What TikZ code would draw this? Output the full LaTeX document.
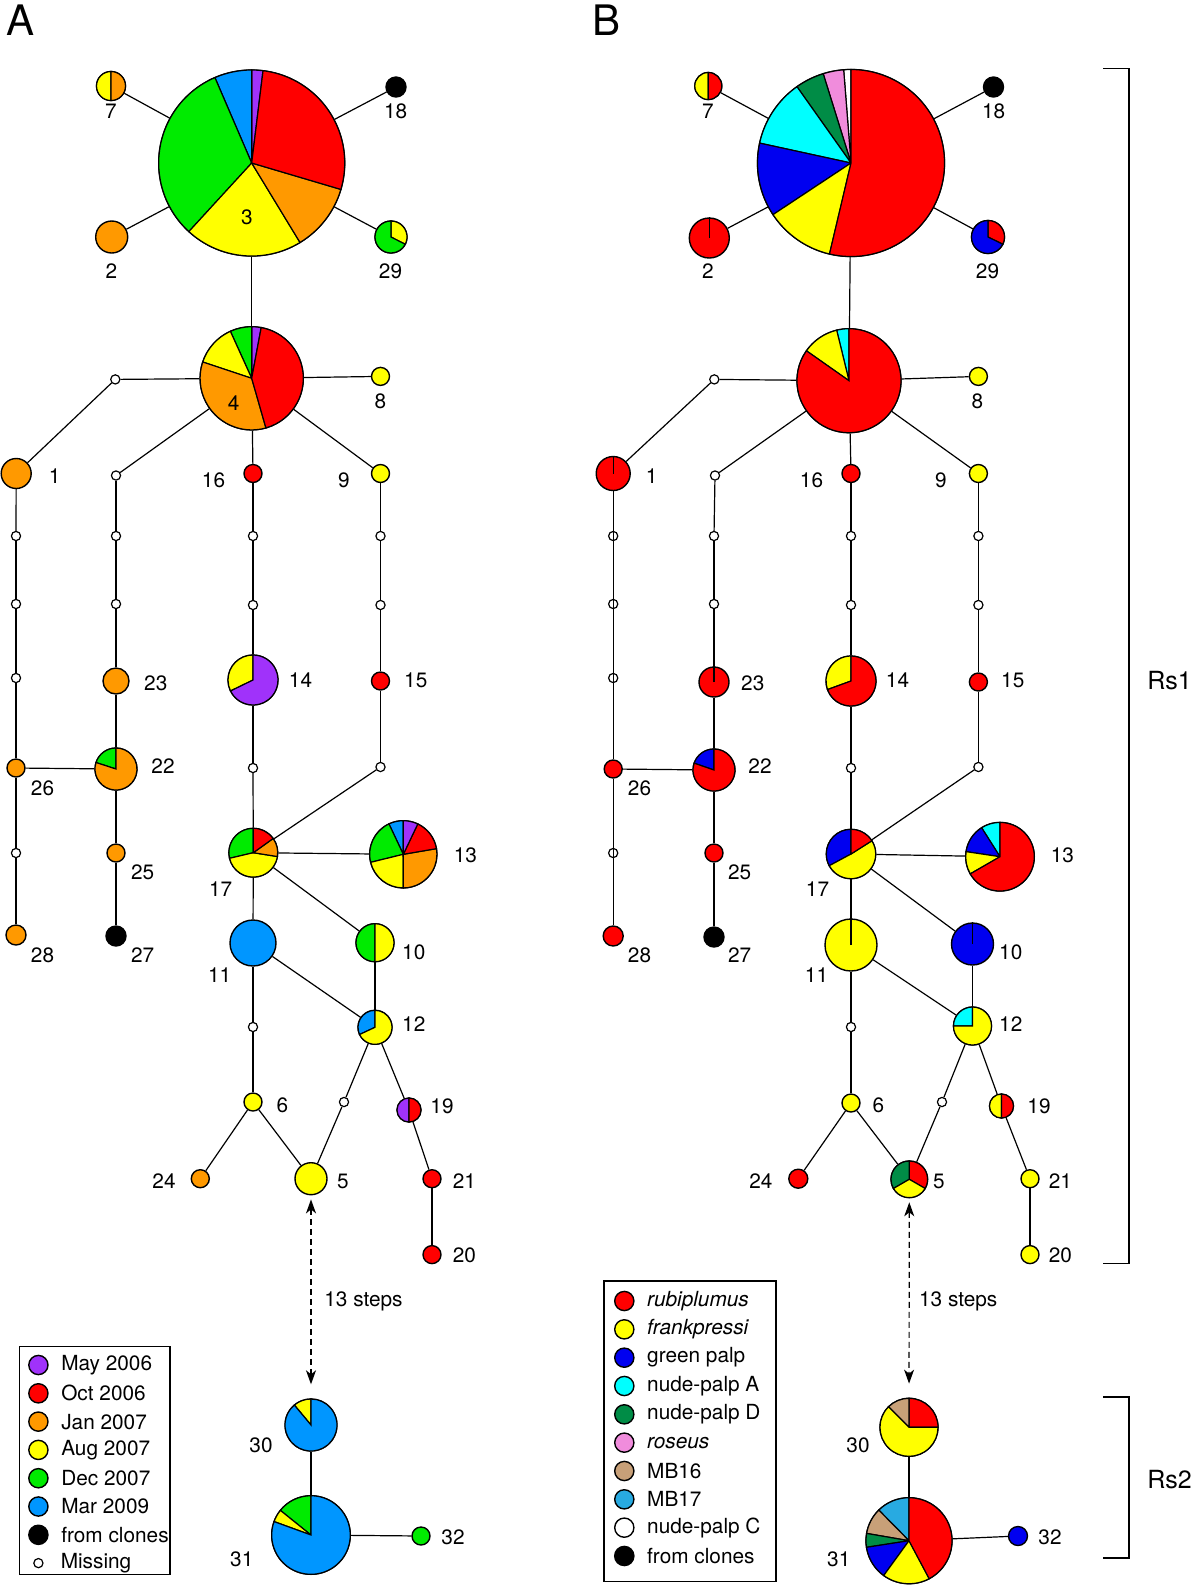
\documentclass[tikz,border=0pt]{standalone}
\usepackage{fontspec}
\setmainfont{TeX Gyre Heros}
\usetikzlibrary{arrows.meta,positioning}

% sampling dates (A)
\definecolor{cmay}{RGB}{160,50,250}
\definecolor{coct}{RGB}{255,0,0}
\definecolor{cjan}{RGB}{255,153,0}
\definecolor{caug}{RGB}{255,255,0}
\definecolor{cdec}{RGB}{0,235,0}
\definecolor{cmar}{RGB}{0,150,255}
% morphotypes (B)
\definecolor{crub}{RGB}{255,0,0}
\definecolor{cfra}{RGB}{255,255,0}
\definecolor{cgp}{RGB}{0,0,240}
\definecolor{cnpa}{RGB}{0,255,255}
\definecolor{cnpd}{RGB}{0,140,70}
\definecolor{cros}{RGB}{240,140,220}
\definecolor{cmbs}{RGB}{200,160,120}
\definecolor{cmbt}{RGB}{40,170,225}

\tikzset{
  hap/.style={circle, draw, line width=0.7pt, inner sep=0pt, minimum size=#1pt},
  mv/.style={circle, draw, line width=0.6pt, fill=white, inner sep=0pt, minimum size=4.6pt},
  lab/.style={font=\fontsize{10.4}{12}\selectfont, inner sep=0pt},
  legtxt/.style={font=\fontsize{10.4}{12}\selectfont, inner sep=0pt},
  jump/.style={line width=0.6pt, dash pattern=on 3pt off 2pt,
    {Stealth[length=7pt,width=5pt,inset=2pt]}-{Stealth[length=7pt,width=5pt,inset=2pt]},
    shorten <=2pt, shorten >=7pt},
}

% pie wedges on a haplotype node: node, radius, list start/end/colour
\newcommand{\hpie}[3]{%
  \foreach \sa/\sb/\sc in {#3}{%
    \filldraw[fill=\sc, line width=0.6pt] (#1.center) -- ++(\sa:#2)
      arc[start angle=\sa, end angle=\sb, radius=#2] -- cycle;}}

\begin{document}
\begin{tikzpicture}[x=0.5pt, y=0.5pt, line width=0.6pt]
  \useasboundingbox (0,0) rectangle (1200,-1587);

  % ---------------- A: sampling dates ----------------
  \node[font=\fontsize{21}{23}\selectfont, inner sep=0pt] (pA) at (20.5,-20) {A};
  \foreach \n/\x/\y/\r/\c in {
    3/251.7/163/93/white, 4/251.7/378.3/51.6/white,
    7/111/86/14.5/white, 18/396/87/10/black, 2/111.7/237/16/cjan, 29/391/237/16/white,
    8/380.5/376.4/9/caug, 1/16.2/473.5/15/cjan, 16/253/473.5/9/coct, 9/380.5/473.5/9/caug,
    26/16/768/9/cjan, 28/16/935/10/cjan,
    23/116/681/13/cjan, 22/116/769/21/white, 25/116/853/9/cjan, 27/116/936/10/black,
    14/253/680/25/white, 17/253.3/852.7/24.4/white, 15/380.5/681/9/coct,
    13/403.3/854.3/33.6/white, 11/253/943/23/cmar, 10/375/942.7/19/white, 12/375/1027.3/17/white,
    6/253/1102/9/caug, 19/409/1110/12/white, 24/200.3/1178.7/9/cjan, 5/311/1178.7/16/caug,
    21/432/1178.7/9/coct, 20/432/1254.6/9/coct,
    30/311/1425/26/white, 31/311/1535/39.3/white, 32/421/1536/9/cdec}
    \node[hap=\r, fill=\c] (a\n) at (\x,-\y) {};
  % missing vertices
  \foreach \n/\x/\y in {m1/115.3/379.4, m2/116/475.5, m3/16/536, m4/16/604, m5/16/678,
    m6/16/853, m7/116/536, m8/116/604, m9/253/536, m10/253/605, m11/253/768,
    m12/380.5/536, m13/380.5/605, m14/380.5/767, m15/253/1027, m16/344/1102}
    \node[mv] (a\n) at (\x,-\y) {};

  \hpie{a3}{93}{83/90/cmay, 90/113.3/cmar, 113.3/227.5/cdec, 227.5/301.3/caug, 301.3/343.5/cjan, 343.5/443/coct}
  \hpie{a7}{14.5}{90/270/caug, -90/90/cjan}
  \hpie{a29}{16}{-27/90/caug, 90/333/cdec}
  \hpie{a4}{51.6}{79.4/90/cmay, 90/114.4/cdec, 114.4/161.6/caug, 161.6/286/cjan, 286/439.4/coct}
  \hpie{a22}{21}{90/162/cdec, 162/450/cjan}
  \hpie{a14}{25}{90/206/caug, 206/450/cmay}
  \hpie{a17}{24.4}{90/193.3/cdec, 193.3/351/caug, 351/395.6/cjan, 35.6/90/coct}
  \hpie{a13}{33.6}{90/115.3/cmar, 115.3/193.8/cdec, 193.8/270/caug, 270/369.7/cjan, 9.7/64.5/coct, 64.5/90/cmay}
  \hpie{a10}{19}{90/270/cdec, 270/450/caug}
  \hpie{a12}{17}{90/205/cmar, 205/450/caug}
  \hpie{a19}{12}{90/270/cmay, -90/90/coct}
  \hpie{a30}{26}{90/129.8/caug, 129.8/450/cmar}
  \hpie{a31}{39.3}{90/141.2/cdec, 141.2/160/caug, 160/450/cmar}

  \foreach \u/\v in {3/4, 3/7, 3/2, 3/18, 3/29, 4/m1, m1/1, 4/m2, m2/m7, m7/m8, m8/23,
    23/22, 22/25, 25/27, 22/26, 1/m3, m3/m4, m4/m5, m5/26, 26/m6, m6/28,
    4/8, 4/16, 16/m9, m9/m10, m10/14, 14/m11, m11/17, 4/9, 9/m12, m12/m13, m13/15,
    15/m14, m14/17, 17/13, 17/11, 17/10, 10/12, 11/12, 11/m15, m15/6, 6/24, 6/5,
    12/m16, m16/5, 12/19, 19/21, 21/20, 30/31, 31/32}
    \draw (a\u) -- (a\v);
  \draw[jump] (a5) -- (a30);

  \node[lab] (la3) at (247,-217.5) {3};
  \node[lab] (la4) at (233.7,-402.7) {4};
  \foreach \n/\x/\y in {7/111/111.3, 18/395.6/111.3, 2/111.3/271, 29/390.5/271,
    8/380.5/401.7, 1/54.6/476.5, 16/213.5/480.6, 9/344/480.6, 26/42.5/788, 28/42.5/955,
    23/155.8/683, 22/163/766, 25/142.7/872, 27/142.7/955, 14/300.5/680, 15/415.8/680,
    17/220.6/889.4, 13/465.4/855, 11/219.6/975.4, 10/413.8/952, 12/413.8/1024,
    6/282.3/1105, 19/442/1106, 24/164/1181, 5/343/1181, 21/464.4/1181, 20/464.4/1255.6,
    30/261/1445, 31/241.8/1559, 32/453/1537}
    \node[lab] (la\n) at (\x,-\y) {\n};
  \node[lab] (laS) at (363.5,-1301) {13 steps};

  % legend A
  \draw[line width=0.6pt] (19.2,-1346.7) rectangle (170,-1574.4);
  \foreach \t/\c [count=\i] in {May 2006/cmay, Oct 2006/coct, Jan 2007/cjan,
    Aug 2007/caug, Dec 2007/cdec, Mar 2009/cmar, from clones/black}{
    \node[hap=9.6, fill=\c] (lgA\i) at (38.4,{-1365-28.3*(\i-1)}) {};
    \node[legtxt, right=6pt of lgA\i] (lgAt\i) {\t};
  }
  \node[mv] (lgA8) at (38.4,-1563.1) {};
  \node[legtxt, right=8.3pt of lgA8] (lgAt8) {Missing};

  % ---------------- B: morphotypes ----------------
  \node[font=\fontsize{21}{23}\selectfont, inner sep=0pt] (pB) at (607,-20) {B};
  \foreach \n/\x/\y/\r/\c in {
    3/851/163/93.5/white, 4/849/380.7/52/white,
    7/708.3/86/13.5/white, 18/993.5/87/10/black, 2/709.3/238/20/coct, 29/988/237/16.5/white,
    8/978.4/376.4/9/cfra, 1/613.2/473.5/17/coct, 16/851/473.5/9/coct, 9/978.4/473.5/9/cfra,
    26/613.2/769/9/coct, 28/613.2/936/10/coct,
    23/714/682/15/coct, 22/714/770/21/white, 25/714/853/9/coct, 27/714/937/10/black,
    14/851/681/25/white, 17/851/854/24.7/white, 15/978.4/682/9/coct,
    13/1000/856.7/34.3/white, 11/851/945/26/cfra, 10/972.5/944/21/cgp, 12/972.5/1026/19/white,
    6/851/1103/9/cfra, 19/1001.5/1106/12/white, 24/798.3/1178.7/9.5/coct, 5/909.3/1179.3/18.3/white,
    21/1030/1178.7/9/cfra, 20/1030/1254.6/9/cfra,
    30/909/1427.3/29/white, 31/909/1540.7/43/white, 32/1018/1536/9.5/cgp}
    \node[hap=\r, fill=\c] (b\n) at (\x,-\y) {};
  \foreach \n/\x/\y in {m1/714.3/379.4, m2/715/475.5, m3/613.2/536, m4/613.2/604,
    m5/613.2/678, m6/613.2/853, m7/714/536, m8/714/604, m9/851/536, m10/851/605,
    m11/851/768, m12/978.4/536, m13/978.4/605, m14/978.4/767, m15/851/1027, m16/942/1102}
    \node[mv] (b\n) at (\x,-\y) {};

  \hpie{b3}{93.5}{90/94.5/white, 94.5/107.3/cros, 107.3/125.3/cnpd, 125.3/167.7/cnpa, 167.7/213.5/cgp, 213.5/256.7/cfra, 256.7/450/crub}
  \hpie{b7}{13.5}{90/270/cfra, -90/90/crub}
  \hpie{b29}{16.5}{-26/90/crub, 90/334/cgp}
  \hpie{b4}{52}{90/103.7/cnpa, 103.7/144.9/cfra, 144.9/450/crub}
  \hpie{b22}{21}{90/161/cgp, 161/450/crub}
  \hpie{b14}{25}{90/200/cfra, 200/450/crub}
  \hpie{b17}{24.7}{90/208.3/cgp, 208.3/392.4/cfra, 32.4/90/crub}
  \hpie{b13}{34.3}{90/122.4/cnpa, 122.4/171.5/cgp, 171.5/210/cfra, 210/450/crub}
  \hpie{b12}{19}{90/180/cnpa, 180/450/cfra}
  \hpie{b19}{12}{90/270/cfra, -90/90/crub}
  \hpie{b5}{18.3}{-30/90/crub, 90/210/cnpd, 210/330/cfra}
  \hpie{b30}{29}{0/90/crub, 90/135/cmbs, 135/360/cfra}
  \hpie{b31}{43}{90/134.6/cmbt, 134.6/170.2/cmbs, 170.2/188.8/cnpd, 188.8/234/cgp, 234/298/cfra, 298/450/crub}
  \foreach \n in {2, 1, 23, 11, 10}
    \draw (b\n.center) -- (b\n.north);

  \foreach \u/\v in {3/4, 3/7, 3/2, 3/18, 3/29, 4/m1, m1/1, 4/m2, m2/m7, m7/m8, m8/23,
    23/22, 22/25, 25/27, 22/26, 1/26, 26/28,
    4/8, 4/16, 16/m9, m9/m10, m10/14, 14/m11, m11/17, 4/9, 9/m12, m12/m13, m13/15,
    15/m14, m14/17, 17/13, 17/11, 17/10, 10/12, 11/12, 11/m15, m15/6, 6/24, 6/5,
    12/m16, m16/5, 12/19, 19/21, 21/20, 30/31, 31/32}
    \draw (b\u) -- (b\v);
  \draw[jump] (b5) -- (b30);

  \foreach \n/\x/\y in {7/708/111.3, 18/993.6/111.3, 2/708/271, 29/987.5/271,
    8/977.4/401.7, 1/651.6/476.5, 16/811.5/480.6, 9/941/480.6, 26/639.5/788, 28/639.5/955,
    23/752.8/683, 22/760/766, 25/739.6/872, 27/739.6/955, 14/897.5/680, 15/1012.8/680,
    17/817.5/889.4, 13/1062.4/855, 11/816.5/975.4, 10/1010.8/952, 12/1010.8/1024,
    6/878.3/1105, 19/1039/1106, 24/760.9/1181, 5/939/1181, 21/1060.4/1181, 20/1060.4/1255.6,
    30/858/1445, 31/838.8/1559, 32/1050/1537}
    \node[lab] (lb\n) at (\x,-\y) {\n};
  \node[lab] (lbS) at (958.2,-1301) {13 steps};

  % legend B
  \draw[line width=0.6pt] (604,-1281) rectangle (776,-1581.5);
  \foreach \t/\c [count=\i] in {\textit{rubiplumus}/crub, \textit{frankpressi}/cfra,
    green palp/cgp, nude-palp A/cnpa, nude-palp D/cnpd, \textit{roseus}/cros,
    MB16/cmbs, MB17/cmbt, nude-palp C/white, from clones/black}{
    \node[hap=9.6, fill=\c] (lgB\i) at (624.3,{-1301-28.33*(\i-1)}) {};
    \node[legtxt, right=6pt of lgB\i] (lgBt\i) {\t};
  }

  % clade brackets
  \draw (1103,-68.8) -- (1129,-68.8) -- (1129,-1263.7) -- (1103,-1263.7);
  \draw (1103,-1397) -- (1129,-1397) -- (1129,-1558) -- (1103,-1558);
  \node[font=\fontsize{12.5}{14}\selectfont, inner sep=0pt] (rs1) at (1169.5,-681) {Rs1};
  \node[font=\fontsize{12.5}{14}\selectfont, inner sep=0pt] (rs2) at (1169.5,-1480) {Rs2};
\end{tikzpicture}
\end{document}
